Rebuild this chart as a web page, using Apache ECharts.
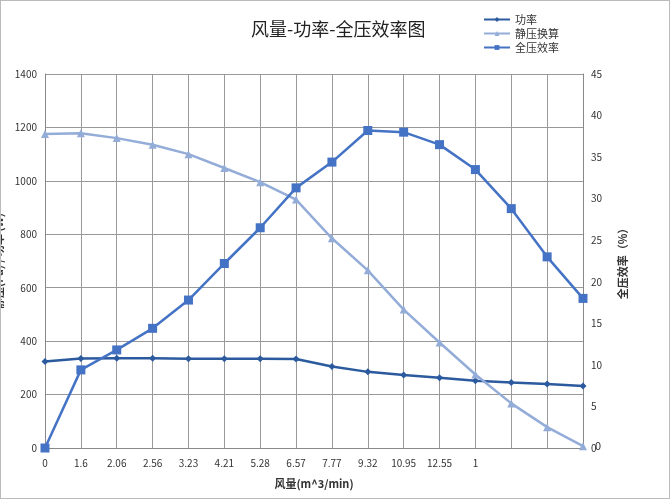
<!DOCTYPE html>
<html><head><meta charset="utf-8">
<script src="https://cdn.jsdelivr.net/npm/echarts@6/dist/echarts.min.js"></script>
<style>html,body{margin:0;padding:0;background:#fff}#c{width:670px;height:499px;box-sizing:border-box;border:1px solid #bbb}</style>
</head><body><div id="c"></div>
<script>
const categories = ['0','1.6','2.06','2.56','3.23','4.21','5.28','6.57','7.77','9.32','10.95','12.55','1','','',''];
const power = [324,335,336,336,334,334,334,333,305,285,273,263,252,245,240,232];
const staticPressure = [1175,1178,1160,1135,1100,1048,995,930,785,665,518,395,275,167,78,7];
const efficiency = [0,9.4,11.8,14.4,17.8,22.2,26.5,31.3,34.4,38.2,38.0,36.5,33.5,28.8,23.0,18.0];

const chart = echarts.init(document.getElementById('c'));
const font = '"Noto Sans CJK SC", sans-serif';
chart.setOption({
  textStyle: {fontFamily: font},
  title: {text: '风量-功率-全压效率图', left: 245, top: 14,
    textStyle: {fontSize: 18, fontWeight: 'normal', color: '#222', fontFamily: font}},
  legend: {orient: 'vertical', left: 477, top: 8, itemGap: 3, itemWidth: 26, itemHeight: 6,
    textStyle: {fontSize: 11, color: '#333'},
    data: ['功率', '静压换算', '全压效率']},
  grid: {left: 44, right: 86, top: 73, bottom: 50, containLabel: false, outerBoundsMode: 'none'},
  xAxis: {type: 'category', data: categories, boundaryGap: false,
    name: '风量(m^3/min)', nameLocation: 'middle', nameGap: 30,
    nameTextStyle: {fontSize: 11, fontWeight: 'bold', color: '#333'},
    axisLine: {lineStyle: {color: '#888'}}, axisTick: {show: false},
    axisLabel: {color: '#333', fontSize: 10, margin: 10, interval: 0},
    splitLine: {show: true, lineStyle: {color: '#999'}}},
  yAxis: [
    {type: 'value', min: 0, max: 1400, interval: 200,
      name: '静压(Pa) / 功率 (W)', nameLocation: 'middle', nameGap: 30,
      nameTextStyle: {fontSize: 11, fontWeight: 'bold', color: '#333'},
      axisLine: {show: true, lineStyle: {color: '#888'}},
      axisLabel: {color: '#333', fontSize: 10, formatter: v => String(v)},
      splitLine: {lineStyle: {color: '#999'}}},
    {type: 'value', min: 0, max: 45, interval: 5,
      name: '全压效率（%）', nameLocation: 'middle', nameGap: 34,
      nameTextStyle: {fontSize: 11, fontWeight: 'bold', color: '#333'},
      axisLine: {show: true, lineStyle: {color: '#888'}},
      axisLabel: {color: '#333', fontSize: 10},
      splitLine: {show: false}}
  ],
  series: [
    {name: '功率', type: 'line', data: power, symbol: 'diamond', symbolSize: 7,
      color: '#2b5a9e', lineStyle: {width: 2.5, color: '#2b5a9e'}},
    {name: '静压换算', type: 'line', data: staticPressure, symbol: 'triangle', symbolSize: 8,
      color: '#93acd8', lineStyle: {width: 2.5, color: '#93acd8'},
      label: {show: true, position: 'right', distance: 8, color: '#333', fontSize: 11,
        formatter: p => p.dataIndex === staticPressure.length - 1 ? '0' : ''}},
    {name: '全压效率', type: 'line', yAxisIndex: 1, data: efficiency, symbol: 'rect', symbolSize: 9,
      color: '#4472c4', lineStyle: {width: 2.5, color: '#4472c4'}}
  ]
});
</script></body></html>
